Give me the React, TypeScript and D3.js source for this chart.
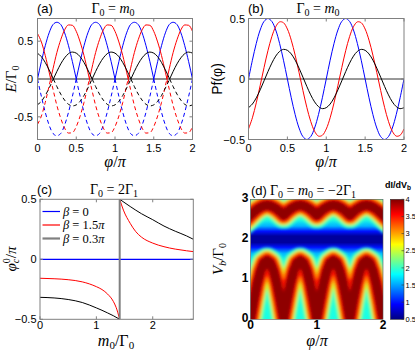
import * as d3 from "d3";

const SANS = "'Liberation Sans', Arial, sans-serif";
const SERIF = "'Liberation Serif', 'Times New Roman', serif";

// φ/π sample grid used by panels (a), (b) and (d)
const phi = [0, 0.05, 0.1, 0.15, 0.2, 0.25, 0.3, 0.35, 0.4, 0.45, 0.5, 0.55, 0.6, 0.65, 0.7, 0.75, 0.8, 0.85, 0.9, 0.95, 1,
  1.05, 1.1, 1.15, 1.2, 1.25, 1.3, 1.35, 1.4, 1.45, 1.5, 1.55, 1.6, 1.65, 1.7, 1.75, 1.8, 1.85, 1.9, 1.95, 2];

// (a) E/Γ0, upper branch (dashed lower branch is the mirror image)
const eBlue = [0, 0.23, 0.44, 0.61, 0.72, 0.75, 0.72, 0.61, 0.44, 0.23,
  0, 0.23, 0.44, 0.61, 0.72, 0.75, 0.72, 0.61, 0.44, 0.23,
  0, 0.23, 0.44, 0.61, 0.72, 0.75, 0.72, 0.61, 0.44, 0.23,
  0, 0.23, 0.44, 0.61, 0.72, 0.75, 0.72, 0.61, 0.44, 0.23, 0];
const eRed: [number, number][] = [[0, 0.6], [0.05, 0.49], [0.1, 0.31], [0.15, 0.09], [0.17, 0], [0.2, 0.135], [0.25, 0.35],
  [0.3, 0.52], [0.35, 0.65], [0.4, 0.715], [0.45, 0.71], [0.5, 0.63], [0.55, 0.49], [0.6, 0.31], [0.65, 0.09], [0.67, 0],
  [0.7, 0.135], [0.75, 0.35], [0.8, 0.52], [0.85, 0.65], [0.9, 0.715], [0.95, 0.71], [1, 0.63], [1.05, 0.49], [1.1, 0.31],
  [1.15, 0.09], [1.17, 0], [1.2, 0.135], [1.25, 0.35], [1.3, 0.52], [1.35, 0.65], [1.4, 0.715], [1.45, 0.71], [1.5, 0.63],
  [1.55, 0.49], [1.6, 0.31], [1.65, 0.09], [1.67, 0], [1.7, 0.135], [1.75, 0.35], [1.8, 0.52], [1.85, 0.65], [1.9, 0.715],
  [1.95, 0.71], [2, 0.63]];
const eBlack: [number, number][] = [[0, 0.34], [0.05, 0.295], [0.1, 0.218], [0.15, 0.12], [0.205, 0], [0.25, 0.1], [0.3, 0.2],
  [0.35, 0.28], [0.4, 0.335], [0.45, 0.356], [0.5, 0.342], [0.55, 0.295], [0.6, 0.218], [0.65, 0.12], [0.705, 0], [0.75, 0.1],
  [0.8, 0.2], [0.85, 0.28], [0.9, 0.335], [0.95, 0.356], [1, 0.342], [1.05, 0.295], [1.1, 0.218], [1.15, 0.12], [1.205, 0],
  [1.25, 0.1], [1.3, 0.2], [1.35, 0.28], [1.4, 0.335], [1.45, 0.356], [1.5, 0.342], [1.55, 0.295], [1.6, 0.218], [1.65, 0.12],
  [1.705, 0], [1.75, 0.1], [1.8, 0.2], [1.85, 0.28], [1.9, 0.335], [1.95, 0.356], [2, 0.342]];

// (b) Pf(φ)
const pfBlue = [0, 0.155, 0.294, 0.405, 0.476, 0.5, 0.476, 0.405, 0.294, 0.155,
  0, -0.155, -0.294, -0.405, -0.476, -0.5, -0.476, -0.405, -0.294, -0.155,
  0, 0.155, 0.294, 0.405, 0.476, 0.5, 0.476, 0.405, 0.294, 0.155,
  0, -0.155, -0.294, -0.405, -0.476, -0.5, -0.476, -0.405, -0.294, -0.155, 0];
const pfRed = [-0.413, -0.321, -0.197, -0.054, 0.095, 0.234, 0.35, 0.432, 0.472, 0.465,
  0.413, 0.321, 0.197, 0.054, -0.095, -0.234, -0.35, -0.432, -0.472, -0.465,
  -0.413, -0.321, -0.197, -0.054, 0.095, 0.234, 0.35, 0.432, 0.472, 0.465,
  0.413, 0.321, 0.197, 0.054, -0.095, -0.234, -0.35, -0.432, -0.472, -0.465, -0.413];
const pfBlack = [-0.237, -0.207, -0.156, -0.09, -0.015, 0.061, 0.131, 0.189, 0.228, 0.245,
  0.237, 0.207, 0.156, 0.09, 0.015, -0.061, -0.131, -0.189, -0.228, -0.245,
  -0.237, -0.207, -0.156, -0.09, -0.015, 0.061, 0.131, 0.189, 0.228, 0.245,
  0.237, 0.207, 0.156, 0.09, 0.015, -0.061, -0.131, -0.189, -0.228, -0.245, -0.237];

// (c) φc0/π against m0/Γ0
const mCross = 1.414;
const cRedLeft: [number, number][] = [[0, -0.158], [0.25, -0.162], [0.5, -0.17], [0.75, -0.188], [1, -0.228], [1.1, -0.252],
  [1.2, -0.29], [1.3, -0.35], [1.35, -0.4], [1.414, -0.5]];
const cBlackLeft: [number, number][] = [[0, -0.317], [0.25, -0.322], [0.5, -0.335], [0.75, -0.36], [1, -0.405], [1.1, -0.425],
  [1.2, -0.447], [1.3, -0.47], [1.414, -0.5]];
const cRedRight: [number, number][] = [[1.414, 0.5], [1.48, 0.41], [1.6, 0.3], [1.7, 0.23], [1.8, 0.185], [2, 0.135],
  [2.2, 0.105], [2.4, 0.085], [2.6, 0.071], [2.72, 0.064]];
const cBlackRight: [number, number][] = [[1.414, 0.5], [1.6, 0.44], [1.8, 0.38], [2, 0.33], [2.2, 0.277], [2.4, 0.234],
  [2.6, 0.195], [2.72, 0.167]];
const legendLabels = ["0", "1.5", "0.3"];

// (d) ridge positions of the dI/dVb map (Vb/Γ0 along φ grid)
const dLowRidge = [0, 0.46, 0.88, 1.2, 1.41, 1.47, 1.41, 1.2, 0.88, 0.46,
  0, 0.46, 0.88, 1.2, 1.41, 1.47, 1.41, 1.2, 0.88, 0.46,
  0, 0.46, 0.88, 1.2, 1.41, 1.47, 1.41, 1.2, 0.88, 0.46,
  0, 0.46, 0.88, 1.2, 1.41, 1.47, 1.41, 1.2, 0.88, 0.46, 0];
const dHighRidge = [2.6, 2.68, 2.75, 2.8, 2.84, 2.85, 2.84, 2.8, 2.75, 2.68,
  2.6, 2.68, 2.75, 2.8, 2.84, 2.85, 2.84, 2.8, 2.75, 2.68,
  2.6, 2.68, 2.75, 2.8, 2.84, 2.85, 2.84, 2.8, 2.75, 2.68,
  2.6, 2.68, 2.75, 2.8, 2.84, 2.85, 2.84, 2.8, 2.75, 2.68, 2.6];
const cbTicks = [0.5, 1, 1.5, 2, 2.5, 3, 3.5, 4];

const ticksHalf = [0, 0.5, 1, 1.5, 2];
const ticksInt = [0, 1, 2];
const ticksSym = [-0.5, 0, 0.5];
const ticksV = [0, 1, 2, 3];

// jet colormap over the colour bar range
const jetT = [0, 0.125, 0.375, 0.625, 0.875, 1];
const jet = d3.scaleLinear<string>()
  .domain(jetT.map((t) => 0.5 + 3.5 * t))
  .range(["#000080", "#0000ff", "#00ffff", "#ffff00", "#ff0000", "#800000"])
  .interpolate(d3.interpolateRgb)
  .clamp(true);

const FRAME = "#808080";

function Frame({ x, y, xt, yt, ticks = true }: any) {
  const [x0, x1] = x.range();
  const [y1, y0] = y.range();
  return (
    <g stroke={FRAME} fill="none" strokeWidth={1}>
      {ticks && xt.map((t: number) => (
        <g key={"x" + t}>
          <line x1={x(t)} x2={x(t)} y1={y1} y2={y1 - 3} />
          <line x1={x(t)} x2={x(t)} y1={y0} y2={y0 + 3} />
        </g>
      ))}
      {ticks && yt.map((t: number) => (
        <g key={"y" + t}>
          <line x1={x0} x2={x0 + 3} y1={y(t)} y2={y(t)} />
          <line x1={x1} x2={x1 - 3} y1={y(t)} y2={y(t)} />
        </g>
      ))}
      <rect x={x0} y={y0} width={x1 - x0} height={y1 - y0} />
    </g>
  );
}

function TickLabels({ x, y, xt, yt, xBase, yRight, fmtY, size = 11, weight = "normal", yShift = 4 }: any) {
  return (
    <g fontFamily={SANS} fontSize={size} fontWeight={weight} fill="#000">
      {xt.map((t: number) => (
        <text key={"x" + t} x={x(t)} y={xBase} textAnchor="middle">{String(t)}</text>
      ))}
      {yt.map((t: number) => (
        <text key={"y" + t} x={yRight} y={y(t) + yShift} textAnchor="end">{fmtY(t)}</text>
      ))}
    </g>
  );
}

function splitArches(pts: [number, number][]) {
  const segs: [number, number][][] = [];
  let cur: [number, number][] = [];
  pts.forEach((p, i) => {
    cur.push(p);
    if (p[1] === 0 && i > 0 && i < pts.length - 1) {
      segs.push(cur);
      cur = [p];
    }
  });
  if (cur.length > 1) segs.push(cur);
  return segs;
}

function PhiLabel({ cx, y }: any) {
  return (
    <text x={cx} y={y} textAnchor="middle" fontFamily={SERIF} fontSize={16}>
      <tspan fontStyle="italic">φ</tspan>/<tspan fontStyle="italic">π</tspan>
    </text>
  );
}

function PanelA() {
  const x = d3.scaleLinear().domain([0, 2]).range([37.5, 192.5]);
  const y = d3.scaleLinear().domain([-0.8, 0.8]).range([139.5, 18.5]);
  const up = d3.line<[number, number]>().x((d) => x(d[0])).y((d) => y(d[1])).curve(d3.curveMonotoneX);
  const down = d3.line<[number, number]>().x((d) => x(d[0])).y((d) => y(-d[1])).curve(d3.curveMonotoneX);
  const blue = phi.map((p, i) => [p, eBlue[i]] as [number, number]);
  const series = [
    { pts: blue, color: "#0000ff" },
    { pts: eRed, color: "#ff0000" },
    { pts: eBlack, color: "#000000" },
  ];
  return (
    <g>
      <defs>
        <clipPath id="clipA"><rect x={37.5} y={18.5} width={155} height={121} /></clipPath>
      </defs>
      <g clipPath="url(#clipA)" fill="none" strokeWidth={1}>
        <line x1={x(0)} x2={x(2)} y1={y(0)} y2={y(0)} stroke="#6a6a6a" strokeWidth={1.5} />
        {series.map((s, k) =>
          splitArches(s.pts).map((seg, j) => (
            <g key={k + "-" + j} stroke={s.color}>
              <path d={up(seg) ?? ""} />
              <path d={down(seg) ?? ""} strokeDasharray="4,3" />
            </g>
          ))
        )}
      </g>
      <Frame x={x} y={y} xt={ticksHalf} yt={ticksSym} />
      <TickLabels x={x} y={y} xt={ticksHalf} yt={ticksSym} xBase={152} yRight={33} fmtY={(t: number) => String(t)} />
      <text x={37} y={13} fontFamily={SANS} fontSize={13}>(a)</text>
      <text x={113} y={13} textAnchor="middle" fontFamily={SERIF} fontSize={14}>
        Γ<tspan fontSize={10} dy={3}>0</tspan><tspan dy={-3}>{" = "}</tspan><tspan fontStyle="italic">m</tspan>
        <tspan fontSize={10} dy={3}>0</tspan>
      </text>
      <PhiLabel cx={115} y={167} />
      <text transform="translate(16,79) rotate(-90)" textAnchor="middle" fontFamily={SERIF} fontSize={15}>
        <tspan fontStyle="italic">E</tspan>/Γ<tspan fontSize={10} dy={3}>0</tspan>
      </text>
    </g>
  );
}

function PanelB() {
  const x = d3.scaleLinear().domain([0, 2]).range([248.5, 404]);
  const y = d3.scaleLinear().domain([-0.5, 0.5]).range([139.5, 18.5]);
  const line = d3.line<number>().x((_, i) => x(phi[i])).y((d) => y(d)).curve(d3.curveCatmullRom.alpha(0.5));
  const series = [
    { v: pfBlue, color: "#0000ff" },
    { v: pfRed, color: "#ff0000" },
    { v: pfBlack, color: "#000000" },
  ];
  return (
    <g>
      <defs>
        <clipPath id="clipB"><rect x={248.5} y={18.5} width={155.5} height={121} /></clipPath>
      </defs>
      <g clipPath="url(#clipB)" fill="none" strokeWidth={1}>
        <line x1={x(0)} x2={x(2)} y1={y(0)} y2={y(0)} stroke="#333" strokeWidth={1} />
        {series.map((s) => <path key={s.color} d={line(s.v) ?? ""} stroke={s.color} />)}
      </g>
      <Frame x={x} y={y} xt={ticksHalf} yt={ticksSym} />
      <TickLabels x={x} y={y} xt={ticksHalf} yt={ticksSym} xBase={152} yRight={245}
        fmtY={(t: number) => (t < 0 ? "\u2212" + String(-t) : String(t))} />
      <text x={248} y={13} fontFamily={SANS} fontSize={13}>(b)</text>
      <text x={318} y={13} textAnchor="middle" fontFamily={SERIF} fontSize={14}>
        Γ<tspan fontSize={10} dy={3}>0</tspan><tspan dy={-3}>{" = "}</tspan><tspan fontStyle="italic">m</tspan>
        <tspan fontSize={10} dy={3}>0</tspan>
      </text>
      <PhiLabel cx={326} y={167} />
      <text transform="translate(222,79) rotate(-90)" textAnchor="middle" fontFamily={SANS} fontSize={14}>
        Pf(φ)
      </text>
    </g>
  );
}

function PanelC() {
  const x = d3.scaleLinear().domain([0, 2.72]).range([40, 193.3]);
  const y = d3.scaleLinear().domain([-0.5, 0.5]).range([319.3, 199.3]);
  const line = d3.line<[number, number]>().x((d) => x(d[0])).y((d) => y(d[1])).curve(d3.curveMonotoneX);
  const legendColors = ["#0000ff", "#ff0000", "#808080"];
  return (
    <g>
      <defs>
        <clipPath id="clipC"><rect x={40} y={199.3} width={153.3} height={120} /></clipPath>
      </defs>
      <g clipPath="url(#clipC)" fill="none" strokeWidth={1}>
        <line x1={x(0)} x2={x(2.72)} y1={y(0)} y2={y(0)} stroke="#0000ff" strokeWidth={1.2} />
        <path d={line(cRedLeft) ?? ""} stroke="#ff0000" />
        <path d={line(cRedRight) ?? ""} stroke="#ff0000" />
        <path d={line(cBlackLeft) ?? ""} stroke="#000" />
        <path d={line(cBlackRight) ?? ""} stroke="#000" />
        <line x1={x(mCross)} x2={x(mCross)} y1={y(-0.5)} y2={y(0.5)} stroke="#808080" strokeWidth={2} />
      </g>
      <Frame x={x} y={y} xt={ticksInt} yt={ticksSym} />
      <TickLabels x={x} y={y} xt={ticksInt} yt={ticksSym} xBase={328.5} yRight={36.5}
        fmtY={(t: number) => (t < 0 ? "\u2212" + String(-t) : String(t))} />
      {legendLabels.map((l, i) => (
        <g key={l}>
          <line x1={42.5} x2={60} y1={211.5 + i * 13.5} y2={211.5 + i * 13.5} stroke={legendColors[i]}
            strokeWidth={i === 2 ? 2.2 : 1.2} />
          <text x={63} y={215.5 + i * 13.5} fontFamily={SERIF} fontSize={12.5}>
            <tspan fontStyle="italic">β</tspan>{" = " + l}
            {l !== "0" && <tspan fontStyle="italic">π</tspan>}
          </text>
        </g>
      ))}
      <text x={37} y={194} fontFamily={SANS} fontSize={13}>(c)</text>
      <text x={114} y={194} textAnchor="middle" fontFamily={SERIF} fontSize={14}>
        Γ<tspan fontSize={10} dy={3}>0</tspan><tspan dy={-3}>{" = 2Γ"}</tspan><tspan fontSize={10} dy={3}>1</tspan>
      </text>
      <text x={116} y={345.5} textAnchor="middle" fontFamily={SERIF} fontSize={16}>
        <tspan fontStyle="italic">m</tspan><tspan fontSize={11} dy={3}>0</tspan><tspan dy={-3}>/Γ</tspan>
        <tspan fontSize={11} dy={3}>0</tspan>
      </text>
      <text transform="translate(16,259) rotate(-90)" textAnchor="middle" fontFamily={SERIF} fontSize={15}>
        <tspan fontStyle="italic">φ</tspan><tspan fontSize={10} fontStyle="italic" dy={3}>c</tspan>
        <tspan fontSize={10} dx={-4.5} dy={-9}>0</tspan><tspan dy={6}>/</tspan><tspan fontStyle="italic">π</tspan>
      </text>
    </g>
  );
}

// background of the map away from the ridges: [Vb/Γ0, dI/dVb]
const bgStops: [number, number][] = [[0, 1.9], [1.45, 1.85], [1.65, 1.55], [1.8, 1.0], [1.92, 0.6], [2.08, 0.6],
  [2.2, 1.0], [2.33, 1.55], [2.5, 1.9], [3, 1.9]];
// stroke width (px) and level for each band drawn around a ridge
const bandLayers: [number, number][] = [[26, 2.0], [21, 2.5], [18, 3.0], [15, 3.5], [10, 3.95]];

function PanelD() {
  const x = d3.scaleLinear().domain([0, 2]).range([250.5, 383]);
  const y = d3.scaleLinear().domain([0, 3]).range([319.3, 199.3]);
  const cb = d3.scaleLinear().domain([0.5, 4]).range([319.3, 199.3]);
  const line = d3.line<number>().x((_, i) => x(phi[i])).y((d) => y(d));
  const ridges = [dLowRidge, dHighRidge];
  return (
    <g>
      <defs>
        <clipPath id="clipD"><rect x={250.5} y={199.3} width={132.5} height={120} /></clipPath>
        <linearGradient id="bgD" gradientUnits="userSpaceOnUse" x1={0} y1={y(0)} x2={0} y2={y(3)}>
          {bgStops.map(([v, c]) => <stop key={v} offset={v / 3} stopColor={jet(c)} />)}
        </linearGradient>
        <linearGradient id="cbar" x1={0} y1={1} x2={0} y2={0}>
          {jetT.map((t) => <stop key={t} offset={t} stopColor={jet(0.5 + 3.5 * t)} />)}
        </linearGradient>
        <filter id="soft" filterUnits="userSpaceOnUse" x={240} y={190} width={160} height={140}>
          <feGaussianBlur stdDeviation={1.6} />
        </filter>
      </defs>
      <g clipPath="url(#clipD)">
        <rect x={250.5} y={199.3} width={132.5} height={120} fill="url(#bgD)" />
        <g filter="url(#soft)" fill="none" strokeLinejoin="round" strokeLinecap="square">
          {bandLayers.map(([w, v]) =>
            ridges.map((r, k) => <path key={w + "-" + k} d={line(r) ?? ""} stroke={jet(v)} strokeWidth={w} />)
          )}
        </g>
      </g>
      <rect x={250.5} y={199.3} width={132.5} height={120} fill="none" stroke="#555" strokeWidth={0.6} />
      <TickLabels x={x} y={y} xt={ticksInt} yt={ticksV} xBase={329} yRight={248.5} yShift={3}
        fmtY={(t: number) => String(t)} size={12} weight="bold" />
      <rect x={390.5} y={199.3} width={13.5} height={120} fill="url(#cbar)" stroke="#333" strokeWidth={0.6} />
      <g fontFamily={SANS} fontSize={7.5}>
        {cbTicks.map((t) => (
          <g key={t}>
            <line x1={401.5} x2={404} y1={cb(t)} y2={cb(t)} stroke="#333" strokeWidth={0.6} />
            <text x={405.5} y={cb(t) + 2.7}>{String(t)}</text>
          </g>
        ))}
      </g>
      <text x={385} y={188} fontFamily={SANS} fontSize={9} fontWeight="bold">
        dI/dV<tspan fontSize={6.5} dy={2}>b</tspan>
      </text>
      <text x={251} y={195} fontFamily={SANS} fontSize={13}>(d)</text>
      <text x={313} y={195} textAnchor="middle" fontFamily={SERIF} fontSize={14}>
        Γ<tspan fontSize={10} dy={3}>0</tspan><tspan dy={-3}>{" = "}</tspan><tspan fontStyle="italic">m</tspan>
        <tspan fontSize={10} dy={3}>0</tspan><tspan dy={-3}>{" = \u22122Γ"}</tspan><tspan fontSize={10} dy={3}>1</tspan>
      </text>
      <PhiLabel cx={317} y={346} />
      <text transform="translate(223,259) rotate(-90)" textAnchor="middle" fontFamily={SERIF} fontSize={15}>
        <tspan fontStyle="italic">V</tspan><tspan fontSize={10} fontStyle="italic" dy={3}>b</tspan>
        <tspan dy={-3}>/Γ</tspan><tspan fontSize={10} dy={3}>0</tspan>
      </text>
    </g>
  );
}

export default function App() {
  return (
    <svg width={415} height={352} style={{ position: "absolute", left: 0, top: 0, background: "#fff" }}>
      <PanelA />
      <PanelB />
      <PanelC />
      <PanelD />
    </svg>
  );
}
